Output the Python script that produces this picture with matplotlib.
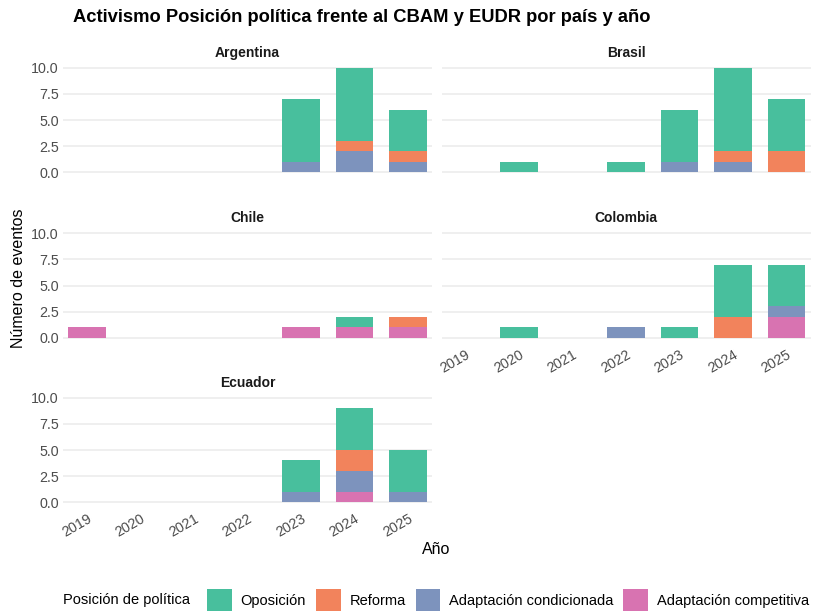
import numpy as np
import matplotlib
matplotlib.use('Agg')
import matplotlib.pyplot as plt
from matplotlib.patches import Patch

plt.rcParams['font.family'] = ['Liberation Sans', 'DejaVu Sans']

# datos
anios = ['2019', '2020', '2021', '2022', '2023', '2024', '2025']
paises = ['Argentina', 'Brasil', 'Chile', 'Colombia', 'Ecuador']
categorias = ['Oposición', 'Reforma', 'Adaptación condicionada', 'Adaptación competitiva']
colores = ['#48BF9D', '#F2835C', '#7D93BD', '#D873B1']

# conteos por país (mismo orden que paises), un valor por año
oposicion = [[0, 0, 0, 0, 6, 7, 4],
             [0, 1, 0, 1, 5, 8, 5],
             [0, 0, 0, 0, 0, 1, 0],
             [0, 1, 0, 0, 1, 5, 4],
             [0, 0, 0, 0, 3, 4, 4]]
reforma = [[0, 0, 0, 0, 0, 1, 1],
           [0, 0, 0, 0, 0, 1, 2],
           [0, 0, 0, 0, 0, 0, 1],
           [0, 0, 0, 0, 0, 2, 0],
           [0, 0, 0, 0, 0, 2, 0]]
adapt_cond = [[0, 0, 0, 0, 1, 2, 1],
              [0, 0, 0, 0, 1, 1, 0],
              [0, 0, 0, 0, 0, 0, 0],
              [0, 0, 0, 1, 0, 0, 1],
              [0, 0, 0, 0, 1, 2, 1]]
adapt_comp = [[0, 0, 0, 0, 0, 0, 0],
              [0, 0, 0, 0, 0, 0, 0],
              [1, 0, 0, 0, 1, 1, 1],
              [0, 0, 0, 0, 0, 0, 2],
              [0, 0, 0, 0, 0, 1, 0]]

series = [oposicion, reforma, adapt_cond, adapt_comp]

fig = plt.figure(figsize=(8.15, 6.13), dpi=100)
W, H = 815, 613

# posiciones de los paneles en pixeles (izq, arriba, ancho, alto)
cols = [63, 441.5]
ancho = 369
filas = [62.5, 228, 392.5]
alto = 115

gris = '#4D4D4D'
x = np.arange(len(anios))

for i, pais in enumerate(paises):
    fila, col = divmod(i, 2)
    ax = fig.add_axes([cols[col] / W, 1 - (filas[fila] + alto) / H, ancho / W, alto / H])
    base = np.zeros(len(anios))
    # se apila desde la última categoría (abajo) hasta la primera (arriba)
    for s, color in zip(series[::-1], colores[::-1]):
        vals = np.array(s[i], dtype=float)
        m = vals > 0
        ax.bar(x[m], vals[m], bottom=base[m], width=0.7, color=color, zorder=2)
        base += vals
    ax.set_xlim(-0.45, 6.45)
    ax.set_ylim(-0.5, 10.5)
    ax.set_yticks([0, 2.5, 5, 7.5, 10])
    ax.grid(axis='y', color='#EBEBEB', linewidth=1.1, zorder=0)
    for sp in ax.spines.values():
        sp.set_visible(False)
    ax.tick_params(length=0, labelsize=10.3, labelcolor=gris, pad=3)
    ax.set_title(pais, fontsize=10, fontweight='bold', color='#1A1A1A', pad=4)
    if col == 0:
        ax.set_yticklabels(['0.0', '2.5', '5.0', '7.5', '10.0'])
    else:
        ax.set_yticklabels([])
    ax.set_xticks(x)
    if pais in ('Colombia', 'Ecuador'):
        ax.set_xticklabels(anios, rotation=30, ha='right', rotation_mode='anchor')
    else:
        ax.set_xticklabels([])

fig.text(73 / W, 1 - 18 / H, 'Activismo Posición política frente al CBAM y EUDR por país y año',
         fontsize=13.2, fontweight='bold', color='black', ha='left', va='center')
fig.text(19 / W, 1 - 278 / H, 'Número de eventos', rotation=90, fontsize=11.5,
         ha='center', va='center', color='black')
fig.text(436 / W, 1 - 550 / H, 'Año', fontsize=11.5, ha='center', va='center', color='black')

fig.text(63 / W, 1 - 600 / H, 'Posición de política', fontsize=10.5, ha='left', va='center', color='black')
handles = [Patch(facecolor=c, edgecolor='none') for c in colores]
fig.legend(handles, categorias, loc='center left', bbox_to_anchor=(207 / W, 1 - 600 / H),
           ncol=4, frameon=False, fontsize=10.5, handlelength=1.7, handleheight=1.9,
           handletextpad=0.6, columnspacing=0.68, borderpad=0, borderaxespad=0)

plt.savefig('out.png', dpi=100, facecolor='white')
